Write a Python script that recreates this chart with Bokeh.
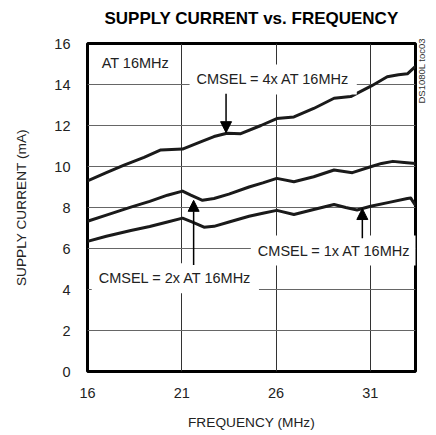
import math
from bokeh.plotting import figure
from bokeh.models import Label, Arrow, NormalHead, FixedTicker, LinearAxis
from bokeh.embed import file_html
from bokeh.resources import INLINE

# ---- data ----
freq_4x = [16.0, 17.0, 17.94, 19.0, 19.89, 21.04, 22.0, 22.71, 23.4, 24.13, 25.2, 26.04, 26.95, 28.0, 29.08, 29.96, 31.06, 31.9, 32.5, 32.97, 33.4]
curr_4x = [9.3, 9.7, 10.07, 10.45, 10.81, 10.85, 11.2, 11.46, 11.62, 11.6, 12.0, 12.34, 12.42, 12.83, 13.33, 13.41, 13.93, 14.38, 14.48, 14.52, 14.88]

freq_2x = [16.0, 17.0, 18.3, 19.3, 20.24, 21.04, 21.48, 22.1, 22.71, 23.5, 24.57, 25.3, 26.04, 26.95, 28.0, 29.08, 30.05, 31.02, 31.6, 32.2, 32.8, 33.4]
curr_2x = [7.33, 7.63, 8.02, 8.3, 8.6, 8.8, 8.6, 8.35, 8.44, 8.65, 9.0, 9.2, 9.42, 9.26, 9.5, 9.83, 9.7, 9.99, 10.15, 10.25, 10.2, 10.15]

freq_1x = [16.0, 17.0, 18.3, 19.3, 20.24, 21.04, 21.57, 22.18, 22.71, 23.6, 24.57, 25.3, 26.04, 26.95, 28.0, 29.08, 29.7, 30.3, 31.02, 32.0, 32.97, 33.15, 33.4]
curr_1x = [6.35, 6.6, 6.88, 7.07, 7.29, 7.48, 7.29, 7.04, 7.08, 7.32, 7.57, 7.72, 7.86, 7.66, 7.9, 8.15, 8.0, 7.88, 8.06, 8.25, 8.44, 8.46, 8.1]

x_ticks = [16, 21, 26, 31]
y_ticks = [0, 2, 4, 6, 8, 10, 12, 14, 16]

title_text = "SUPPLY CURRENT vs. FREQUENCY"
x_label = "FREQUENCY (MHz)"
y_label = "SUPPLY CURRENT (mA)"
doc_id = "DS1080L toc03"
doc_id_pos = 13.07

FONT = "Liberation Sans"

p = figure(width=436, height=435, x_range=(16, 33.4), y_range=(0, 16),
           output_backend="svg", toolbar_location=None,
           min_border_left=87, min_border_right=21, min_border_top=43, min_border_bottom=64)

p.outline_line_color = "black"
p.outline_line_width = 3

bottom_ax = p.below[0]
left_ax = p.left[0]

# title drawn as the label of an empty top axis
top_ax = LinearAxis(ticker=FixedTicker(ticks=[]))
p.add_layout(top_ax, "above")
right_ax = LinearAxis()
p.add_layout(right_ax, "right")

for ax in (bottom_ax, left_ax, right_ax, top_ax):
    ax.axis_line_color = None
    ax.major_tick_line_color = None
    ax.minor_tick_line_color = None
    ax.major_tick_in = 0
    ax.major_tick_out = 0
    ax.major_label_text_font = FONT
    ax.major_label_text_font_size = "14.5px"
    ax.major_label_text_color = "#222222"
    ax.axis_label_text_font = FONT
    ax.axis_label_text_font_size = "13.7px"
    ax.axis_label_text_font_style = "normal"
    ax.axis_label_text_color = "#222222"

top_ax.axis_label = title_text
top_ax.axis_label_text_font_size = "17px"
top_ax.axis_label_text_font_style = "bold"
top_ax.axis_label_text_color = "black"
top_ax.major_label_standoff = 0
top_ax.axis_label_standoff = 16

bottom_ax.ticker = FixedTicker(ticks=x_ticks)
left_ax.ticker = FixedTicker(ticks=y_ticks)
bottom_ax.major_label_standoff = 16
left_ax.major_label_standoff = 17
bottom_ax.axis_label = x_label
left_ax.axis_label = y_label
bottom_ax.axis_label_standoff = 14
left_ax.axis_label_standoff = 22

right_ax.ticker = FixedTicker(ticks=[doc_id_pos])
right_ax.major_label_overrides = {doc_id_pos: doc_id}
right_ax.major_label_orientation = math.pi / 2
right_ax.major_label_text_font_size = "9.5px"
right_ax.major_label_text_color = "#333333"
right_ax.major_label_standoff = 6

xg = p.xgrid[0]
yg = p.ygrid[0]
xg.ticker = FixedTicker(ticks=x_ticks)
yg.ticker = FixedTicker(ticks=y_ticks)
xg.grid_line_color = "#333333"
yg.grid_line_color = "#666666"
xg.grid_line_width = 1
yg.grid_line_width = 1

for fx, cy in ((freq_4x, curr_4x), (freq_2x, curr_2x), (freq_1x, curr_1x)):
    p.line(fx, cy, line_color="#1a1a1a", line_width=3, line_join="round")

def lab(x, y, text, align="center", bg=True):
    kw = dict(x=x, y=y, text=text, text_font=FONT, text_font_size="14.5px",
              text_color="#222222", text_align=align, text_baseline="middle")
    if bg:
        kw.update(background_fill_color="white", padding=7)
    p.add_layout(Label(**kw))

lab(16.75, 15.05, "AT 16MHz", align="left", bg=False)
lab(25.85, 14.25, "CMSEL = 4x AT 16MHz")
lab(29.1, 5.9, "CMSEL = 1x AT 16MHz")
lab(20.66, 4.55, "CMSEL = 2x AT 16MHz")

def arrow(x, y0, y1):
    p.add_layout(Arrow(x_start=x, y_start=y0, x_end=x, y_end=y1,
                       line_color="black", line_width=1.5,
                       end=NormalHead(size=11, fill_color="black", line_color="black")))

arrow(23.35, 13.55, 11.65)
arrow(21.63, 5.2, 8.35)
arrow(30.58, 6.5, 7.95)

open("out.html", "w").write(file_html(p, INLINE))
